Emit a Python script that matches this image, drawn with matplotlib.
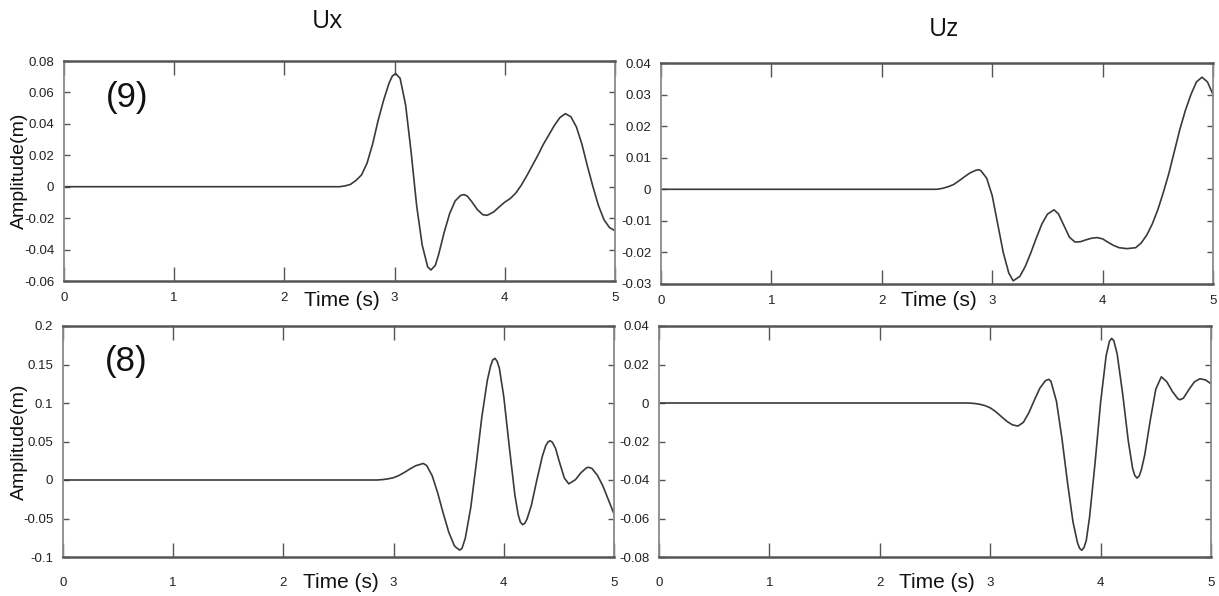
import matplotlib
matplotlib.use("Agg")
import matplotlib.pyplot as plt

# ---------------- data ----------------
col_titles = ["Ux", "Uz"]
row_labels = ["(9)", "(8)"]
x_ticks = [0, 1, 2, 3, 4, 5]
x_tick_labels = ["0", "1", "2", "3", "4", "5"]

t_ux9 = [0, 2.5, 2.55, 2.6, 2.65, 2.7, 2.75, 2.8, 2.85, 2.9, 2.95, 2.98, 3.01, 3.05, 3.1,
         3.15, 3.2, 3.25, 3.3, 3.33, 3.37, 3.4, 3.45, 3.5, 3.55, 3.6, 3.63, 3.66, 3.7, 3.75,
         3.8, 3.84, 3.9, 3.95, 4.0, 4.05, 4.1, 4.15, 4.2, 4.25, 4.3, 4.35, 4.4, 4.45, 4.5,
         4.55, 4.6, 4.65, 4.7, 4.75, 4.8, 4.85, 4.9, 4.95, 5.0]
v_ux9 = [0, 0, 0.0005, 0.0015, 0.004, 0.0075, 0.015, 0.027, 0.042, 0.055, 0.066, 0.0705,
         0.072, 0.069, 0.052, 0.022, -0.012, -0.037, -0.051, -0.053, -0.050, -0.043,
         -0.029, -0.017, -0.009, -0.0055, -0.005, -0.006, -0.0095, -0.0145, -0.0178,
         -0.0182, -0.016, -0.0128, -0.0098, -0.0075, -0.004, 0.001, 0.007, 0.0135, 0.020,
         0.027, 0.033, 0.039, 0.044, 0.0465, 0.0445, 0.038, 0.027, 0.013, 0.0, -0.012,
         -0.021, -0.026, -0.028]

t_uz9 = [0, 2.5, 2.55, 2.6, 2.65, 2.7, 2.75, 2.8, 2.85, 2.88, 2.9, 2.95, 3.0, 3.05, 3.1,
         3.15, 3.19, 3.25, 3.3, 3.35, 3.4, 3.45, 3.5, 3.56, 3.6, 3.65, 3.7, 3.75, 3.8, 3.85,
         3.9, 3.95, 4.0, 4.05, 4.1, 4.15, 4.22, 4.3, 4.35, 4.4, 4.45, 4.5, 4.55, 4.6, 4.65,
         4.7, 4.75, 4.8, 4.85, 4.9, 4.95, 5.0]
v_uz9 = [0, 0, 0.0003, 0.0008, 0.0015, 0.0027, 0.004, 0.0052, 0.006, 0.0062, 0.0058,
         0.0035, -0.002, -0.011, -0.020, -0.0265, -0.029, -0.0276, -0.0244, -0.0201,
         -0.0154, -0.011, -0.0079, -0.0065, -0.0078, -0.0115, -0.0152, -0.0167, -0.0166,
         -0.016, -0.0155, -0.0153, -0.0157, -0.0168, -0.0178, -0.0185, -0.0188, -0.0185,
         -0.017, -0.0145, -0.011, -0.0065, -0.001, 0.005, 0.012, 0.019, 0.025, 0.030,
         0.034, 0.0355, 0.034, 0.030]

t_ux8 = [0, 2.85, 2.9, 2.95, 3.0, 3.05, 3.1, 3.15, 3.2, 3.27, 3.3, 3.35, 3.4, 3.45, 3.5,
         3.55, 3.57, 3.6, 3.62, 3.65, 3.7, 3.75, 3.8, 3.85, 3.88, 3.9, 3.92, 3.94, 3.96,
         4.0, 4.05, 4.1, 4.13, 4.15, 4.17, 4.19, 4.21, 4.25, 4.3, 4.35, 4.38, 4.4, 4.42,
         4.44, 4.47, 4.5, 4.55, 4.59, 4.65, 4.7, 4.75, 4.77, 4.8, 4.85, 4.9, 4.95, 5.0]
v_ux8 = [0, 0, 0.0005, 0.0015, 0.003, 0.006, 0.010, 0.0145, 0.0185, 0.0215, 0.0188,
         0.0056, -0.0167, -0.043, -0.0675, -0.085, -0.088, -0.091, -0.089, -0.076, -0.036,
         0.021, 0.081, 0.129, 0.148, 0.156, 0.158, 0.154, 0.145, 0.108, 0.043, -0.019,
         -0.0447, -0.0546, -0.058, -0.0563, -0.051, -0.033, 0.0, 0.031, 0.0443, 0.0493,
         0.051, 0.0491, 0.041, 0.0256, 0.0024, -0.005, 0.0004, 0.0094, 0.0158, 0.0165,
         0.015, 0.006, -0.008, -0.026, -0.044]

t_uz8 = [0, 2.8, 2.85, 2.9, 2.95, 3.0, 3.05, 3.1, 3.15, 3.2, 3.25, 3.3, 3.35, 3.4, 3.45,
         3.5, 3.53, 3.55, 3.6, 3.65, 3.7, 3.75, 3.79, 3.81, 3.83, 3.85, 3.87, 3.9, 3.95,
         4.0, 4.05, 4.08, 4.1, 4.12, 4.15, 4.2, 4.25, 4.29, 4.31, 4.33, 4.35, 4.37, 4.4,
         4.45, 4.5, 4.55, 4.6, 4.65, 4.7, 4.72, 4.75, 4.8, 4.85, 4.9, 4.95, 5.0]
v_uz8 = [0, 0, -0.0002, -0.0006, -0.0013, -0.0025, -0.0045, -0.007, -0.0095, -0.0113,
         -0.012, -0.0101, -0.0051, 0.0015, 0.0077, 0.0116, 0.0123, 0.0113, 0.0009, -0.0184,
         -0.0413, -0.0618, -0.0725, -0.0755, -0.0765, -0.075, -0.0715, -0.0593, -0.0311,
         0.0003, 0.0245, 0.032, 0.0336, 0.0323, 0.0255, 0.0047, -0.0194, -0.034, -0.0377,
         -0.039, -0.0379, -0.0345, -0.0269, -0.0089, 0.0072, 0.0136, 0.011, 0.006, 0.0022,
         0.0017, 0.0025, 0.007, 0.011, 0.0126, 0.012, 0.010]

yt_ux9 = [-0.06, -0.04, -0.02, 0, 0.02, 0.04, 0.06, 0.08]
yl_ux9 = ["-0.06", "-0.04", "-0.02", "0", "0.02", "0.04", "0.06", "0.08"]
yt_uz9 = [-0.03, -0.02, -0.01, 0, 0.01, 0.02, 0.03, 0.04]
yl_uz9 = ["-0.03", "-0.02", "-0.01", "0", "0.01", "0.02", "0.03", "0.04"]
yt_ux8 = [-0.1, -0.05, 0, 0.05, 0.1, 0.15, 0.2]
yl_ux8 = ["-0.1", "-0.05", "0", "0.05", "0.1", "0.15", "0.2"]
yt_uz8 = [-0.08, -0.06, -0.04, -0.02, 0, 0.02, 0.04]
yl_uz8 = ["-0.08", "-0.06", "-0.04", "-0.02", "0", "0.02", "0.04"]

# ---------------- figure ----------------
W, H = 1219, 596
fig = plt.figure(figsize=(W / 100, H / 100), dpi=100)

def fx(px):
    return px / W

def fy(py):
    return 1 - py / H

def make_ax(l, t, r, b):
    return fig.add_axes([fx(l), fy(b), fx(r) - fx(l), fy(t) - fy(b)])

tick_font = ["Liberation Sans Narrow", "Liberation Sans", "DejaVu Sans"]
text_font = ["Liberation Sans", "DejaVu Sans"]

panels = [
    # box (l, t, r, b), t, v, yticks, ylabels, ylabel?, tag, x-label pad, time-label offset
    ((64, 61, 615, 281), t_ux9, v_ux9, yt_ux9, yl_ux9, True, row_labels[0], 8, 19),
    ((661, 63, 1213, 284), t_uz9, v_uz9, yt_uz9, yl_uz9, False, None, 8, 17),
    ((63, 326, 614, 557), t_ux8, v_ux8, yt_ux8, yl_ux8, True, row_labels[1], 14.5, 26),
    ((659, 326, 1211, 557), t_uz8, v_uz8, yt_uz8, yl_uz8, False, None, 14.5, 26),
]

for (box, tt, vv, yt, yl, has_ylabel, tag, xpad, toff) in panels:
    ax = make_ax(*box)
    ax.plot(tt, vv, color="#3a3a3a", lw=1.2, solid_capstyle="round",
            solid_joinstyle="round")
    ax.set_xlim(0, 5)
    ax.set_ylim(yt[0], yt[-1])
    ax.set_xticks(x_ticks)
    ax.set_xticklabels(x_tick_labels, fontfamily=tick_font, fontsize=9.5)
    ax.set_yticks(yt)
    ax.set_yticklabels(yl, fontfamily=tick_font, fontsize=9.5)
    ax.tick_params(axis="x", direction="in", length=10, width=1.0, color="#555555",
                   top=True, bottom=True, pad=xpad, labelcolor="#222222")
    ax.tick_params(axis="y", direction="in", length=4, width=1.0, color="#555555",
                   left=True, right=True, pad=7, labelcolor="#222222")
    for side in ["top", "bottom"]:
        ax.spines[side].set_color("#555555")
        ax.spines[side].set_linewidth(1.8)
    for side in ["left", "right"]:
        ax.spines[side].set_color("#8a8a8a")
        ax.spines[side].set_linewidth(1.3)
    if has_ylabel:
        cy = (box[1] + box[3]) / 2
        fig.text(fx(19), fy(cy), "Amplitude(m)", rotation=90, ha="center", va="center",
                 fontsize=14, fontfamily=text_font, color="#111111")
    if tag:
        fig.text(fx(box[0] + 63), fy(box[1] + 36), tag, ha="center", va="center",
                 fontsize=25, fontfamily=text_font, color="#111111")
    # "Time (s)" label sitting between tick labels 2 and 3
    fig.text(fx(box[0] + 278), fy(box[3] + toff), "Time (s)", ha="center", va="center",
             fontsize=15, fontfamily=text_font, color="#111111")

fig.text(fx(327), fy(22), col_titles[0], ha="center", va="center", fontsize=18,
         fontfamily=["Open Sans", "DejaVu Sans"], color="#111111")
fig.text(fx(944), fy(30), col_titles[1], ha="center", va="center", fontsize=18,
         fontfamily=["Open Sans", "DejaVu Sans"], color="#111111")

fig.savefig("out.png", dpi=100, facecolor="white")
